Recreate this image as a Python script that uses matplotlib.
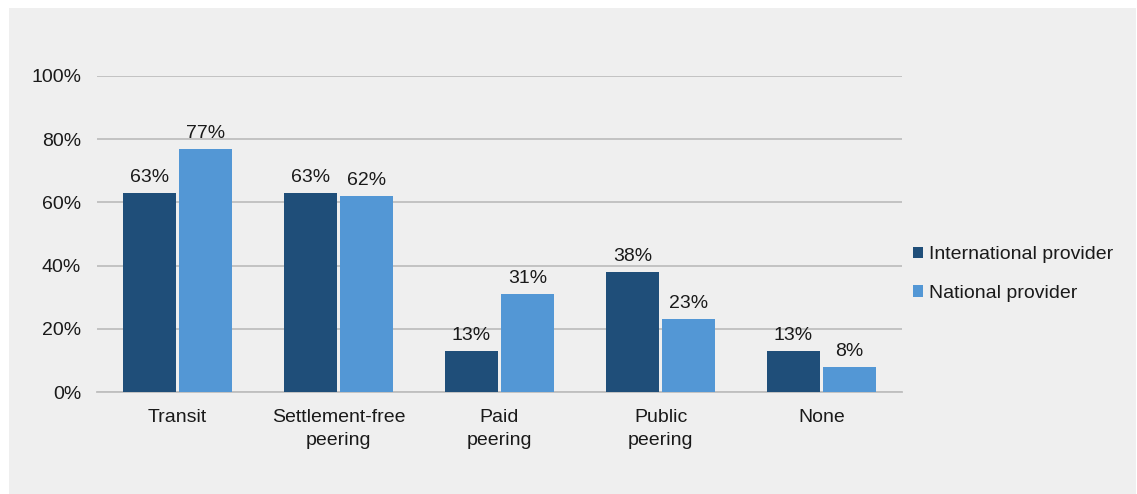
import numpy as np
import matplotlib
matplotlib.use('Agg')
from matplotlib import pyplot as plt
from matplotlib.patches import Rectangle, Patch

categories = ['Transit', 'Settlement-free\npeering', 'Paid\npeering', 'Public\npeering', 'None']
international = [0.63, 0.63, 0.13, 0.38, 0.13]
national = [0.77, 0.62, 0.31, 0.23, 0.08]
series_names = ['International provider', 'National provider']
yticks = [0, 0.2, 0.4, 0.6, 0.8, 1.0]

DARK = '#1F4E79'
LIGHT = '#5397D5'
BG = '#EFEFEF'
GRID = '#BFBFBF'
TXT = '#1a1a1a'
FS = 14

plt.rcParams['font.family'] = ['Liberation Sans', 'DejaVu Sans']

W, H = 1137, 494
fig = plt.figure(figsize=(W / 100, H / 100), dpi=100)
fig.patch.set_facecolor('white')
fig.patches.append(Rectangle((9 / W, 0), (1136 - 9) / W, 1 - 8 / H,
                             transform=fig.transFigure, facecolor=BG,
                             edgecolor='none', zorder=-10))

left, right, top, bottom = 97, 902, 76, 392
ax = fig.add_axes([left / W, 1 - bottom / H, (right - left) / W, (bottom - top) / H])
ax.set_facecolor('none')

x = np.arange(len(categories))
bw = 0.328
gap = 0.01
b1 = ax.bar(x - bw / 2 - gap, international, bw, color=DARK, zorder=3)
b2 = ax.bar(x + bw / 2 + gap, national, bw, color=LIGHT, zorder=3)

for bars, vals in ((b1, international), (b2, national)):
    for rect, v in zip(bars, vals):
        ax.annotate(f'{v * 100:.0f}%', (rect.get_x() + rect.get_width() / 2, v),
                    xytext=(0, 5), textcoords='offset points',
                    ha='center', va='bottom', fontsize=FS, color=TXT)

ax.set_xlim(-0.5, len(categories) - 0.5)
ax.set_ylim(0, 1)
ax.set_yticks(yticks)
ax.set_yticklabels([f'{t * 100:.0f}%' for t in yticks], fontsize=FS, color=TXT)
ax.set_xticks(x)
ax.set_xticklabels(categories, fontsize=FS, color=TXT, linespacing=1.45)
ax.tick_params(axis='both', length=0)
ax.tick_params(axis='y', pad=11.5)
ax.tick_params(axis='x', pad=12.5)
ax.yaxis.grid(True, color=GRID, linewidth=1.3, zorder=0)
ax.set_axisbelow(True)
for s in ['top', 'right', 'left']:
    ax.spines[s].set_visible(False)
ax.spines['bottom'].set_color(GRID)
ax.spines['bottom'].set_linewidth(1.3)

handles = [Patch(facecolor=DARK), Patch(facecolor=LIGHT)]
fig.legend(handles, series_names, loc='center left',
           bbox_to_anchor=(895 / W, 1 - 274 / H), frameon=False,
           fontsize=FS, handlelength=0.55, handleheight=0.55,
           handletextpad=0.3, labelspacing=1.1, labelcolor=TXT)

fig.savefig('out.png', dpi=100, facecolor=fig.get_facecolor())
